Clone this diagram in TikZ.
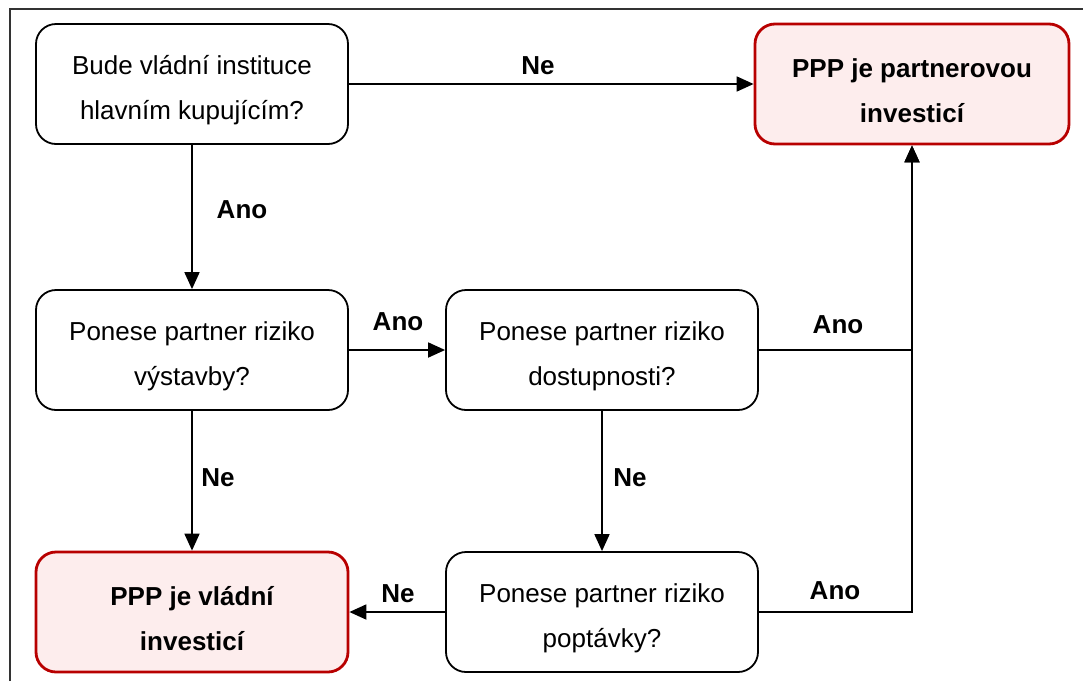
\documentclass[tikz,border=0pt]{standalone}
\usepackage{fontspec}
\setmainfont{Liberation Sans}
\usetikzlibrary{arrows.meta}
\definecolor{redline}{RGB}{184,0,0}
\definecolor{pinkfill}{RGB}{253,237,237}
\newcommand{\topgap}{\rule{0pt}{16pt}}
\tikzstyle{quest}=[rectangle, rounded corners = 10pt, draw, line width = .9pt, minimum width = 156pt, minimum height = 60pt, align = center, font = \fontsize{13}{22.5}\selectfont]
\tikzstyle{outc}=[quest, draw = redline, fill = pinkfill, line width = 1.4pt, font = \bfseries\fontsize{13}{22.5}\selectfont]
\tikzstyle{lab}=[inner sep = 0pt, font = \bfseries\fontsize{13}{15}\selectfont]
\tikzstyle{arr}=[-{Triangle[length = 8.5pt, width = 7.5pt]}, line width = .9pt]

\begin{document}
\begin{tikzpicture}[x = .5pt, y = -.5pt]
\useasboundingbox (0,0) rectangle (1083,681);
\draw [line width = .9pt, black!80] (10,681) -- (10,9) -- (1083,9);
\node (gov) at (192,84) [quest] {\topgap Bude vládní instituce\\hlavním kupujícím?};
\node (ppart) at (912,84) [outc, minimum width = 157pt] {\topgap PPP je partnerovou\\investicí};
\node (constr) at (192,350) [quest] {\topgap Ponese partner riziko\\výstavby?};
\node (avail) at (602,350) [quest] {\topgap Ponese partner riziko\\dostupnosti?};
\node (pgov) at (192,612) [outc] {\topgap PPP je vládní\\investicí};
\node (demand) at (602,612) [quest] {\topgap Ponese partner riziko\\poptávky?};
%%%%%%%%%%%%%%%%%%%%%%%
\draw [arr] (gov) to (ppart);
\draw [arr] (gov) to (constr);
\draw [arr] (constr) to (avail);
\draw [arr] (avail) -| (ppart);
\draw [arr] (demand) -| (ppart);
\draw [arr] (constr) to (pgov);
\draw [arr] (avail) to (demand);
\draw [arr] (demand) to (pgov);
%%%%%%%%%%%%%%%%%%%%%%%
\node (ne1) at (538,66) [lab] {Ne};
\node (ano1) at (242,210) [lab] {Ano};
\node (ano2) at (398,322) [lab] {Ano};
\node (ano3) at (838,325) [lab] {Ano};
\node (ne2) at (218,478) [lab] {Ne};
\node (ne3) at (630,478) [lab] {Ne};
\node (ne4) at (398,594) [lab] {Ne};
\node (ano4) at (835,591) [lab] {Ano};
\end{tikzpicture}
\end{document}
